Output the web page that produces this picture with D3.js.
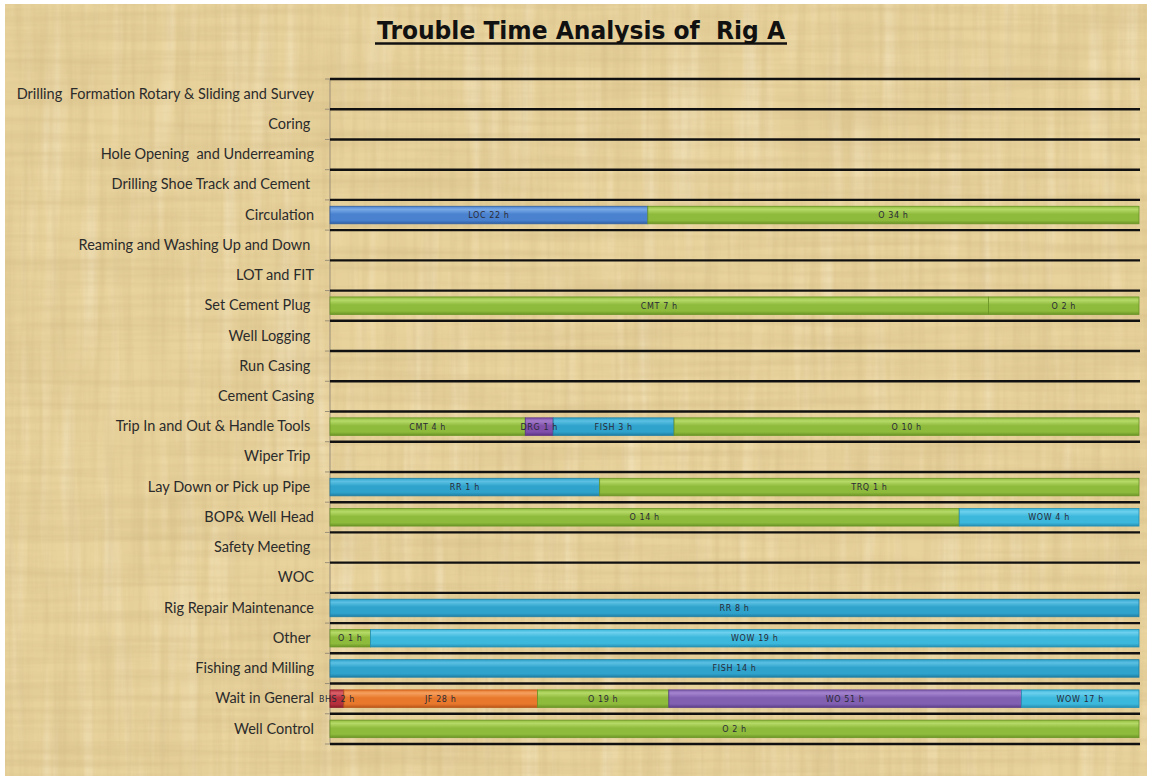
<!DOCTYPE html>
<html>
<head>
<meta charset="utf-8">
<script src="https://cdn.jsdelivr.net/npm/d3@7"></script>
<style>
  html, body { margin: 0; padding: 0; background: #ffffff; }
  svg { display: block; }
  .cat-label { white-space: pre; }
</style>
</head>
<body>
<svg id="chart" width="1151" height="780"></svg>
<script>
// Activity categories, top to bottom
const categories = [
  "Drilling  Formation Rotary & Sliding and Survey",
  "Coring ",
  "Hole Opening  and Underreaming",
  "Drilling Shoe Track and Cement ",
  "Circulation",
  "Reaming and Washing Up and Down ",
  "LOT and FIT",
  "Set Cement Plug ",
  "Well Logging ",
  "Run Casing ",
  "Cement Casing",
  "Trip In and Out & Handle Tools ",
  "Wiper Trip ",
  "Lay Down or Pick up Pipe ",
  "BOP& Well Head",
  "Safety Meeting ",
  "WOC",
  "Rig Repair Maintenance",
  "Other ",
  "Fishing and Milling",
  "Wait in General",
  "Well Control"
];

// Trouble-time segments, in stacking order (parallel arrays)
const segCategory = [
  "Circulation", "Circulation",
  "Set Cement Plug ", "Set Cement Plug ",
  "Trip In and Out & Handle Tools ", "Trip In and Out & Handle Tools ",
  "Trip In and Out & Handle Tools ", "Trip In and Out & Handle Tools ",
  "Lay Down or Pick up Pipe ", "Lay Down or Pick up Pipe ",
  "BOP& Well Head", "BOP& Well Head",
  "Rig Repair Maintenance",
  "Other ", "Other ",
  "Fishing and Milling",
  "Wait in General", "Wait in General", "Wait in General", "Wait in General", "Wait in General",
  "Well Control"
];
const segCode = [
  "LOC", "O",
  "CMT", "O",
  "CMT", "DRG", "FISH", "O",
  "RR", "TRQ",
  "O", "WOW",
  "RR",
  "O", "WOW",
  "FISH",
  "BHS", "JF", "O", "WO", "WOW",
  "O"
];
const segHours = [
  22, 34,
  7, 1.6,
  4.2, 0.6, 2.6, 10,
  0.7, 1.4,
  14, 4,
  8,
  1, 19,
  14,
  2, 28, 19, 51, 17,
  2
];

// Colour per trouble code: [top highlight, body, bottom shade]
const codeColors = {
  LOC:  ["#78a9e6", "#4a82cf", "#2f5fa3"],
  O:    ["#b6da68", "#8fbb3d", "#6a9526"],
  CMT:  ["#b6da68", "#8fbb3d", "#6a9526"],
  TRQ:  ["#b6da68", "#8fbb3d", "#6a9526"],
  DRG:  ["#a47ccb", "#8050ab", "#5d3585"],
  FISH: ["#5cc0e3", "#2fa3cc", "#1f7ea3"],
  RR:   ["#5cc0e3", "#2fa3cc", "#1f7ea3"],
  WOW:  ["#6dd0ee", "#3cb8dc", "#2590b3"],
  BHS:  ["#d9616a", "#b7313d", "#8a1f29"],
  JF:   ["#f5a060", "#e8792c", "#b9561a"],
  WO:   ["#a584cf", "#8160b2", "#5c3f89"]
};

const plot = { left: 330, right: 1139, top: 79, bottom: 744 };

const svg = d3.select("#chart");
const defs = svg.append("defs");

// Parchment fibre textures
function noiseFilter(id, freq, seed, matrix) {
  const f = defs.append("filter").attr("id", id)
    .attr("x", 0).attr("y", 0).attr("width", "100%").attr("height", "100%");
  f.append("feTurbulence").attr("type", "fractalNoise")
    .attr("baseFrequency", freq).attr("numOctaves", 3).attr("seed", seed);
  f.append("feColorMatrix").attr("type", "matrix").attr("values", matrix);
}
noiseFilter("blotch", "0.01 0.018", 3,
  "0 0 0 0 0.72  0 0 0 0 0.56  0 0 0 0 0.28  0.9 0 0 0 -0.38");
noiseFilter("fibresH", "0.004 0.12", 7,
  "0 0 0 0 0.62  0 0 0 0 0.47  0 0 0 0 0.22  0.8 0 0 0 -0.3");
noiseFilter("fibresV", "0.14 0.005", 11,
  "0 0 0 0 0.62  0 0 0 0 0.47  0 0 0 0 0.22  0.7 0 0 0 -0.28");
noiseFilter("lightV", "0.05 0.004", 19,
  "0 0 0 0 1  0 0 0 0 0.96  0 0 0 0 0.84  0.9 0 0 0 -0.45");

// Bar gradients
Object.entries(codeColors).forEach(([code, c]) => {
  const g = defs.append("linearGradient").attr("id", "grad-" + code)
    .attr("x1", 0).attr("y1", 0).attr("x2", 0).attr("y2", 1);
  g.append("stop").attr("offset", "0%").attr("stop-color", c[1]);
  g.append("stop").attr("offset", "18%").attr("stop-color", c[0]);
  g.append("stop").attr("offset", "45%").attr("stop-color", c[1]);
  g.append("stop").attr("offset", "80%").attr("stop-color", c[1]);
  g.append("stop").attr("offset", "100%").attr("stop-color", c[2]);
});

// Background
const bg = svg.append("g");
["none", "url(#blotch)", "url(#lightV)", "url(#fibresH)", "url(#fibresV)"].forEach((flt, i) => {
  bg.append("rect").attr("x", 5).attr("y", 4).attr("width", 1142).attr("height", 772)
    .attr("fill", i === 0 ? "#e9d39c" : "#000")
    .attr("filter", flt === "none" ? null : flt);
});

// Scales
const y = d3.scaleBand().domain(categories)
  .range([plot.top, plot.bottom]).paddingInner(0.42).paddingOuter(0.21);
const x = d3.scaleLinear().domain([0, 1]).range([plot.left, plot.right]);

// Row boundaries
const step = y.step();
const bounds = d3.range(categories.length + 1).map(i => plot.top + i * step);

svg.append("g").selectAll("line")
  .data(bounds).join("line")
  .attr("x1", plot.left - 5).attr("x2", plot.left)
  .attr("y1", d => d).attr("y2", d => d)
  .attr("stroke", "#9a8f7a").attr("stroke-width", 1);

svg.append("line")
  .attr("x1", plot.left).attr("x2", plot.left)
  .attr("y1", plot.top).attr("y2", plot.bottom)
  .attr("stroke", "#9a8f7a").attr("stroke-width", 1);

svg.append("g").selectAll("line")
  .data(bounds).join("line")
  .attr("x1", plot.left).attr("x2", plot.right + 1)
  .attr("y1", d => d).attr("y2", d => d)
  .attr("stroke", "#111").attr("stroke-width", 2.4);

// Category axis
const axis = svg.append("g")
  .attr("transform", `translate(${plot.left},0)`)
  .call(d3.axisLeft(y).tickSize(0).tickPadding(16));
axis.select(".domain").remove();
axis.selectAll("text")
  .attr("class", "cat-label")
  .attr("font-family", "Lato, 'Open Sans', sans-serif")
  .attr("font-size", 14.5)
  .attr("fill", "#2b2b2b");

// Build 100% stacked segments
const segments = segCode.map((code, i) => ({
  cat: segCategory[i], code, hours: segHours[i]
}));
const totals = d3.rollup(segments, v => d3.sum(v, d => d.hours), d => d.cat);
const running = new Map();
segments.forEach(s => {
  const start = running.get(s.cat) || 0;
  s.f0 = start / totals.get(s.cat);
  s.f1 = (start + s.hours) / totals.get(s.cat);
  running.set(s.cat, start + s.hours);
});

const bars = svg.append("g");
bars.selectAll("rect")
  .data(segments).join("rect")
  .attr("x", d => x(d.f0))
  .attr("y", d => y(d.cat))
  .attr("width", d => x(d.f1) - x(d.f0))
  .attr("height", y.bandwidth())
  .attr("fill", d => "url(#grad-" + d.code + ")")
  .attr("stroke", d => codeColors[d.code][2])
  .attr("stroke-width", 0.8);

bars.selectAll("text")
  .data(segments).join("text")
  .attr("x", d => (x(d.f0) + x(d.f1)) / 2)
  .attr("y", d => y(d.cat) + y.bandwidth() / 2 + 3)
  .attr("text-anchor", "middle")
  .attr("font-family", "'DejaVu Sans', sans-serif")
  .attr("font-size", 8)
  .attr("letter-spacing", 0.6)
  .attr("fill", "#2a2a36")
  .text(d => `${d.code} ${Math.round(d.hours)} h`);

// Title
svg.append("text")
  .attr("x", 581).attr("y", 39)
  .attr("text-anchor", "middle")
  .attr("font-family", "'DejaVu Sans', sans-serif")
  .attr("font-weight", "bold")
  .attr("font-size", 24)
  .attr("fill", "#111")
  .attr("textLength", 408)
  .attr("lengthAdjust", "spacingAndGlyphs")
  .style("white-space", "pre")
  .text("Trouble Time Analysis of  Rig A");
svg.append("line")
  .attr("x1", 375).attr("x2", 787)
  .attr("y1", 43.5).attr("y2", 43.5)
  .attr("stroke", "#111").attr("stroke-width", 2.5);
</script>
</body>
</html>
